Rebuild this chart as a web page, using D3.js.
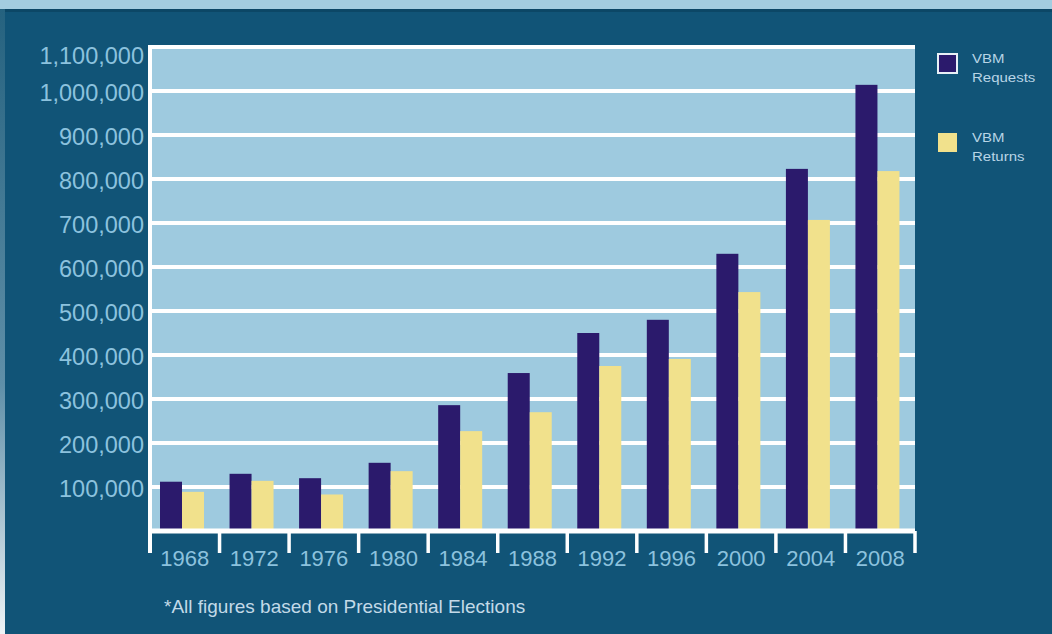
<!DOCTYPE html>
<html>
<head>
<meta charset="utf-8">
<script src="https://cdn.jsdelivr.net/npm/d3@7"></script>
<style>
  body { margin: 0; background: #a3cde0; }
  svg { display: block; }
</style>
</head>
<body>
<div id="chart"></div>
<script>
// data
var years = ["1968", "1972", "1976", "1980", "1984", "1988", "1992", "1996", "2000", "2004", "2008"];
var requests = [112000, 130000, 120000, 155000, 286000, 359000, 450000, 480000, 630000, 823000, 1014000];
var returns = [89000, 114000, 83000, 136000, 227000, 270000, 375000, 391000, 543000, 707000, 818000];
var yTicks = [100000, 200000, 300000, 400000, 500000, 600000, 700000, 800000, 900000, 1000000, 1100000];

var W = 1052, H = 634;
var margin = {top: 47, right: 137, bottom: 103, left: 150},
    width = W - margin.left - margin.right,
    height = H - margin.top - margin.bottom;

var svg = d3.select("#chart").append("svg")
    .attr("width", W)
    .attr("height", H);

// left edge fades from blue to white
var grad = svg.append("defs").append("linearGradient")
    .attr("id", "edge").attr("x1", 0).attr("y1", 0).attr("x2", 0).attr("y2", 1);
grad.append("stop").attr("offset", "0%").attr("stop-color", "#25627f");
grad.append("stop").attr("offset", "60%").attr("stop-color", "#5f8fa8");
grad.append("stop").attr("offset", "100%").attr("stop-color", "#eef3f6");

// background panels
svg.append("rect").attr("width", W).attr("height", H).attr("fill", "#a3cde0");
svg.append("rect").attr("x", 0).attr("y", 9).attr("width", 5).attr("height", H - 9).attr("fill", "url(#edge)");
svg.append("rect").attr("x", 5).attr("y", 9).attr("width", W - 5).attr("height", H - 9).attr("fill", "#115477");
svg.append("rect").attr("x", 5).attr("y", 9).attr("width", W - 5).attr("height", 3).attr("fill", "#0c4766");

var g = svg.append("g")
    .attr("transform", "translate(" + margin.left + "," + margin.top + ")");

var x = d3.scaleBand().domain(years).range([0, width]);
var y = d3.scaleLinear().domain([0, 1100000]).range([height, 0]);
var barW = 22, barOff = 10;
var font = "Liberation Sans, Arial, sans-serif";

// plot background
g.append("rect").attr("width", width).attr("height", height).attr("fill", "#9ecadf");

// gridlines
g.selectAll(".grid")
    .data(yTicks)
  .enter().append("line")
    .attr("class", "grid")
    .attr("x1", 0).attr("x2", width)
    .attr("y1", function(d) { return y(d); })
    .attr("y2", function(d) { return y(d); })
    .attr("stroke", "#ffffff")
    .attr("stroke-width", 4);

// bars
g.selectAll(".req")
    .data(requests)
  .enter().append("rect")
    .attr("class", "req")
    .attr("x", function(d, i) { return x(years[i]) + barOff; })
    .attr("y", function(d) { return y(d); })
    .attr("width", barW)
    .attr("height", function(d) { return height - y(d); })
    .attr("fill", "#2b1a6c");

g.selectAll(".ret")
    .data(returns)
  .enter().append("rect")
    .attr("class", "ret")
    .attr("x", function(d, i) { return x(years[i]) + barOff + barW; })
    .attr("y", function(d) { return y(d); })
    .attr("width", barW)
    .attr("height", function(d) { return height - y(d); })
    .attr("fill", "#f1e18c");

// baseline + left axis line
g.append("line")
    .attr("x1", 0).attr("x2", width)
    .attr("y1", height).attr("y2", height)
    .attr("stroke", "#ffffff").attr("stroke-width", 5);
g.append("line")
    .attr("x1", 0).attr("x2", 0)
    .attr("y1", -2).attr("y2", height + 22)
    .attr("stroke", "#ffffff").attr("stroke-width", 4);

// x category separators
var seps = years.map(function(d) { return x(d); }).concat([width]);
g.selectAll(".sep")
    .data(seps.slice(1))
  .enter().append("line")
    .attr("class", "sep")
    .attr("x1", function(d) { return d; })
    .attr("x2", function(d) { return d; })
    .attr("y1", height).attr("y2", height + 22)
    .attr("stroke", "#ffffff").attr("stroke-width", 3.5);

// x labels
g.selectAll(".xl")
    .data(years)
  .enter().append("text")
    .attr("class", "xl")
    .attr("x", function(d) { return x(d) + x.bandwidth() / 2; })
    .attr("y", height + 35)
    .attr("text-anchor", "middle")
    .attr("font-family", font)
    .attr("font-size", 22)
    .attr("fill", "#8cc2de")
    .text(function(d) { return d; });

// y labels (top one sits a little lower, as in the original)
var fmt = d3.format(",");
g.selectAll(".yl")
    .data(yTicks)
  .enter().append("text")
    .attr("class", "yl")
    .attr("x", -6)
    .attr("y", function(d) { return Math.max(y(d) + 10, 17); })
    .attr("text-anchor", "end")
    .attr("font-family", font)
    .attr("font-size", 23.5)
    .attr("fill", "#8cc2de")
    .text(function(d) { return fmt(d); });

// legend
var legend = [
  {name: ["VBM", "Requests"], color: "#2b1a6c", y: 54},
  {name: ["VBM", "Returns"], color: "#f1e18c", y: 133}
];
var lg = svg.selectAll(".legend")
    .data(legend)
  .enter().append("g")
    .attr("class", "legend")
    .attr("transform", function(d) { return "translate(938," + d.y + ")"; });
lg.append("rect")
    .attr("width", 19).attr("height", 19)
    .attr("fill", function(d) { return d.color; })
    .attr("stroke", function(d, i) { return i === 0 ? "#e8f0f6" : "none"; })
    .attr("stroke-width", 2);
lg.append("text")
    .attr("x", 34).attr("y", 10)
    .attr("font-family", font)
    .attr("font-size", 15)
    .attr("transform", "scale(1,0.9)")
    .attr("fill", "#b9d5e6")
    .text(function(d) { return d.name[0]; });
lg.append("text")
    .attr("x", 34).attr("y", 31)
    .attr("font-family", font)
    .attr("font-size", 15)
    .attr("transform", "scale(1,0.9)")
    .attr("fill", "#b9d5e6")
    .text(function(d) { return d.name[1]; });

// footnote
svg.append("text")
    .attr("x", 164).attr("y", 613)
    .attr("font-family", font)
    .attr("font-size", 19)
    .attr("fill", "#c3dae8")
    .text("*All figures based on Presidential Elections");
</script>
</body>
</html>
